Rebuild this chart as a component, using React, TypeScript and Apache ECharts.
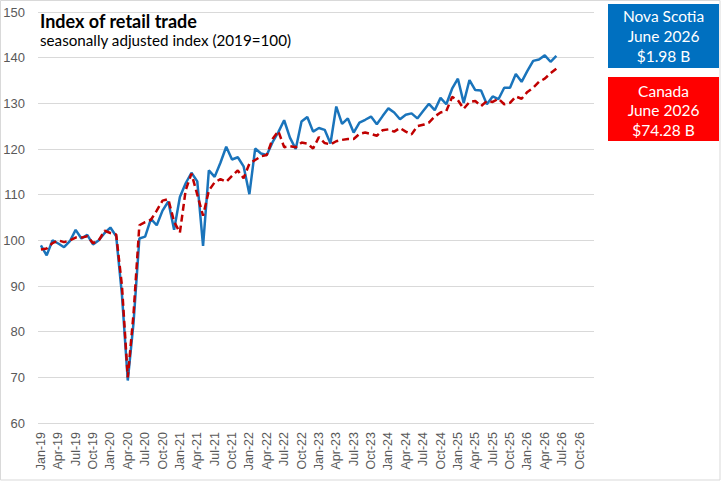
import React, { useEffect, useRef } from "react";
import * as echarts from "echarts";

const MONTHS = ["Jan", "Feb", "Mar", "Apr", "May", "Jun", "Jul", "Aug", "Sep", "Oct", "Nov", "Dec"];
const YEARS = ["19", "20", "21", "22", "23", "24", "25", "26"];

const novaScotia = [
  98.9, 96.7, 100.0, 99.3, 98.5, 99.8, 102.3, 100.4, 101.2, 99.1, 100.0, 101.6,
  102.8, 100.9, 88.0, 69.3, 82.0, 100.4, 100.8, 104.7, 103.3, 106.5, 108.5, 102.3,
  109.5, 112.5, 114.8, 112.9, 98.8, 115.3, 113.9, 117.0, 120.5, 117.7, 118.2, 116.2,
  110.1, 120.1, 119.0, 118.7, 121.5, 123.7, 126.3, 122.5, 120.0, 126.0, 127.0, 123.8,
  124.6, 124.2, 121.2, 129.3, 125.5, 126.7, 123.6, 125.8, 126.4, 127.1, 125.4, 127.2,
  128.9, 128.0, 126.5, 127.5, 127.8, 126.7, 128.3, 129.9, 128.5, 131.2, 129.8, 133.2,
  135.4, 130.1, 135.1, 132.9, 132.8, 129.8, 131.5, 130.9, 133.4, 133.4, 136.4, 134.7,
  137.1, 139.3, 139.6, 140.5, 139.1, 140.4,
];

const canada = [
  98.0, 98.2, 99.4, 100.0, 99.6, 100.0, 100.6, 100.6, 100.9, 99.4, 100.0, 102.1,
  101.6, 101.3, 90.0, 70.0, 84.0, 103.3, 104.0, 104.5, 106.5, 108.7, 109.0, 104.1,
  101.7, 111.0, 114.6, 110.0, 105.4, 110.9, 112.7, 113.4, 112.8, 114.1, 115.3, 113.6,
  116.8, 117.6, 118.4, 118.7, 122.2, 123.9, 120.4, 120.6, 120.4, 121.4, 121.2, 120.1,
  122.6, 121.3, 121.0, 121.7, 122.0, 122.2, 122.2, 123.3, 123.6, 123.3, 122.9, 124.1,
  124.3, 123.8, 124.6, 123.8, 123.2, 125.0, 125.3, 125.8, 127.1, 128.0, 128.3, 131.4,
  130.7, 128.8, 130.3, 130.5, 129.4, 130.5, 130.3, 131.0, 129.8, 130.1, 131.5, 131.0,
  132.5, 133.4, 134.7, 135.4, 136.6, 137.6,
];

const TITLE = "Index of retail trade";
const SUBTITLE = "seasonally adjusted index (2019=100)";
const NS_BOX = ["Nova Scotia", "June 2026", "$1.98 B"];
const CA_BOX = ["Canada", "June 2026", "$74.28 B"];

const categories: string[] = [];
YEARS.forEach((y) => MONTHS.forEach((m) => categories.push(`${m}-${y}`)));

const FONT = "Lato, 'Open Sans', sans-serif";

function boxTexts(lines: string[], cx: number, ys: number[]) {
  return lines.map((t, i) => ({
    type: "text",
    x: cx,
    y: ys[i],
    style: {
      text: t,
      fill: "#ffffff",
      font: `15.5px ${FONT}`,
      textAlign: "center",
      textVerticalAlign: "middle",
    },
    z: 11,
  }));
}

export default function App() {
  const ref = useRef<HTMLDivElement>(null);
  useEffect(() => {
    if (!ref.current) return;
    const chart = echarts.init(ref.current, undefined, { renderer: "svg" });
    chart.setOption({
      animation: false,
      backgroundColor: "#ffffff",
      grid: { left: 38, right: 127, top: 12, bottom: 58, containLabel: false },
      xAxis: {
        type: "category",
        data: categories,
        boundaryGap: true,
        axisTick: { show: false },
        axisLine: { show: false },
        splitLine: { show: false },
        axisLabel: {
          interval: 2,
          rotate: 90,
          color: "#595959",
          fontSize: 12.5,
          fontFamily: "'Liberation Sans', Arial, sans-serif",
          margin: 9,
        },
      },
      yAxis: {
        type: "value",
        min: 60,
        max: 150,
        interval: 10,
        axisLine: { show: false },
        axisTick: { show: false },
        splitLine: { lineStyle: { color: "#d9d9d9", width: 1 } },
        axisLabel: {
          color: "#595959",
          fontSize: 13,
          fontFamily: "'Liberation Sans', Arial, sans-serif",
          margin: 13,
        },
      },
      series: [
        {
          name: "Nova Scotia",
          type: "line",
          data: novaScotia,
          showSymbol: false,
          symbol: "none",
          lineStyle: { color: "#1a74bb", width: 2.5 },
          z: 2,
        },
        {
          name: "Canada",
          type: "line",
          data: canada,
          showSymbol: false,
          symbol: "none",
          lineStyle: { color: "#c00000", width: 2.5, type: [7, 4] },
          z: 3,
        },
      ],
      graphic: [
        {
          type: "rect",
          shape: { x: 0.5, y: 0.5, width: 719.5, height: 479.5 },
          style: { fill: "none", stroke: "#d9d9d9", lineWidth: 1 },
          z: 0,
          silent: true,
        },
        {
          type: "text",
          x: 40,
          y: 12,
          style: {
            text: TITLE,
            fill: "#000000",
            font: `bold 18px ${FONT}`,
            textVerticalAlign: "top",
          },
          z: 10,
        },
        {
          type: "text",
          x: 40,
          y: 32,
          style: {
            text: SUBTITLE,
            fill: "#000000",
            font: `15.2px ${FONT}`,
            textVerticalAlign: "top",
          },
          z: 10,
        },
        {
          type: "rect",
          shape: { x: 608, y: 4, width: 111, height: 64 },
          style: { fill: "#0070c0" },
          z: 10,
        },
        ...boxTexts(NS_BOX, 663.5, [16, 35.5, 56]),
        {
          type: "rect",
          shape: { x: 608, y: 77, width: 111, height: 64 },
          style: { fill: "#ff0000" },
          z: 10,
        },
        ...boxTexts(CA_BOX, 663.5, [91, 110, 130]),
      ],
    });
    return () => chart.dispose();
  }, []);
  return (
    <div
      ref={ref}
      style={{ position: "fixed", left: 0, top: 0, width: 721, height: 481 }}
    />
  );
}
